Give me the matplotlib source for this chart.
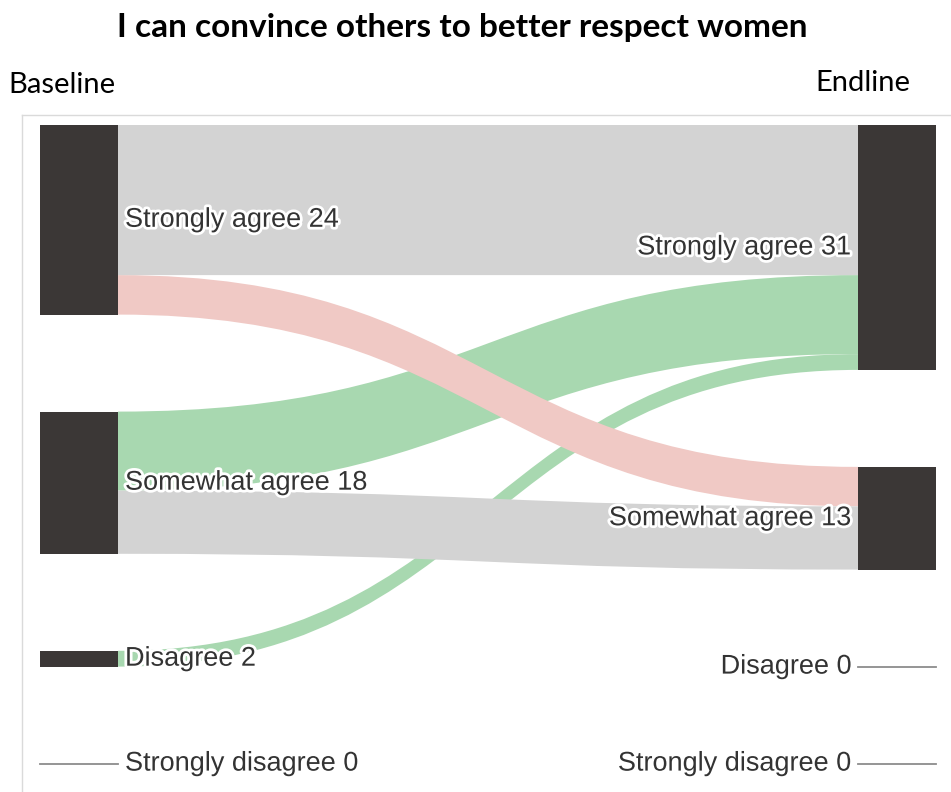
import matplotlib.pyplot as plt
import matplotlib.patheffects as pe
from matplotlib.path import Path
from matplotlib.patches import PathPatch, Rectangle

# Data
categories = ["Strongly agree", "Somewhat agree", "Disagree", "Strongly disagree"]
baseline_counts = [24, 18, 2, 0]
endline_counts = [31, 13, 0, 0]

# flows: baseline category -> endline category
flow_src = [0, 0, 1, 1, 2]
flow_dst = [0, 1, 0, 1, 0]
flow_val = [19, 5, 10, 8, 2]

title = "I can convince others to better respect women"

# Layout (pixel space)
W, H = 951, 792
top = 125
gap = 97
scale = 7.9
node_w = 78
left_x = 40
right_x = 858

node_col = "#3b3736"
col_same = "#d3d3d3"
col_up = "#a8d8b0"
col_down = "#f0c9c5"

fig = plt.figure(figsize=(W / 100, H / 100), dpi=100)
ax = fig.add_axes([0, 0, 1, 1])
ax.set_xlim(0, W)
ax.set_ylim(H, 0)
ax.axis("off")


def layout(counts):
    ys = []
    y = top
    for c in counts:
        ys.append(y)
        y += c * scale + gap
    return ys


left_y = layout(baseline_counts)
right_y = layout(endline_counts)

# stacking offsets inside nodes
out_off = list(left_y)
in_off = list(right_y)
bands = []
for s, t, v in sorted(zip(flow_src, flow_dst, flow_val)):
    bands.append([s, t, v, out_off[s], None])
    out_off[s] += v * scale
for b in sorted(bands, key=lambda b: (b[1], b[0])):
    b[4] = in_off[b[1]]
    in_off[b[1]] += b[2] * scale


def color_for(s, t):
    if s == t:
        return col_same
    return col_up if t < s else col_down


x0 = left_x + node_w
x1 = right_x
xm = (x0 + x1) / 2
draw_order = {col_up: 0, col_down: 1, col_same: 2}
for s, t, v, ys, yt in sorted(bands, key=lambda b: draw_order[color_for(b[0], b[1])]):
    h = v * scale
    verts = [(x0, ys), (xm, ys), (xm, yt), (x1, yt),
             (x1, yt + h), (xm, yt + h), (xm, ys + h), (x0, ys + h), (x0, ys)]
    codes = [Path.MOVETO, Path.CURVE4, Path.CURVE4, Path.CURVE4,
             Path.LINETO, Path.CURVE4, Path.CURVE4, Path.CURVE4, Path.CLOSEPOLY]
    ax.add_patch(PathPatch(Path(verts, codes), facecolor=color_for(s, t),
                           edgecolor="none", zorder=1))

halo = [pe.withStroke(linewidth=4, foreground="white")]
lab_font = dict(family="Liberation Sans", fontsize=19.5, color="#333333")


def draw_nodes(x, ys, counts, side):
    for name, y, c in zip(categories, ys, counts):
        if c > 0:
            ax.add_patch(Rectangle((x, y), node_w, c * scale, facecolor=node_col,
                                   edgecolor="none", zorder=3))
        else:
            ax.plot([x, x + node_w], [y, y], color="#8c8c8c", lw=1.3, zorder=3)
        yc = y + c * scale / 2
        if side == "left":
            ax.text(x + node_w + 7, yc, f"{name} {c}", ha="left", va="center",
                    path_effects=halo, zorder=4, **lab_font)
        else:
            ax.text(x - 6, yc, f"{name} {c}", ha="right", va="center",
                    path_effects=halo, zorder=4, **lab_font)


draw_nodes(left_x, left_y, baseline_counts, "left")
draw_nodes(right_x, right_y, endline_counts, "right")

# frame
ax.plot([22, 22], [115, H], color="#dadada", lw=1, zorder=0)
ax.plot([22, W], [115, 115], color="#dadada", lw=1, zorder=0)

ax.text(462, 28, title, ha="center", va="center", family="Lato",
        fontweight="bold", fontsize=24, color="black")
ax.text(8, 85, "Baseline", ha="left", va="center", family="Lato",
        fontsize=21, color="black")
ax.text(910, 83, "Endline", ha="right", va="center", family="Lato",
        fontsize=21, color="black")

fig.savefig("out.png", dpi=100)
